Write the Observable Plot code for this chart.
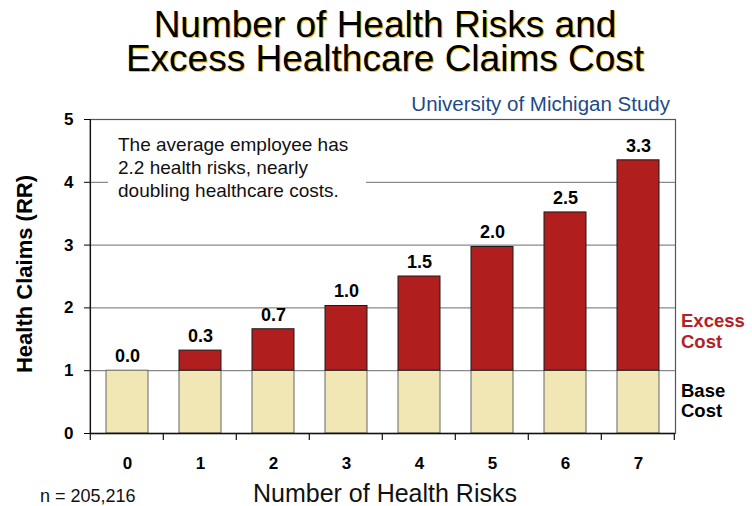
<!DOCTYPE html>
<html>
<head>
<meta charset="utf-8">
<script src="https://cdn.jsdelivr.net/npm/d3@7"></script>
<script src="https://cdn.jsdelivr.net/npm/@observablehq/plot@0.6"></script>
<style>
  body { margin: 0; background: #fff; }
  #wrap { position: relative; width: 752px; height: 506px; overflow: hidden; font-family: "Liberation Sans", Arial, sans-serif; }
  #wrap svg { position: absolute; left: 0; top: 0; }
  .ov { position: absolute; white-space: nowrap; }
</style>
</head>
<body>
<div id="wrap"></div>
<script>
// ---- data ----
const risks = [0, 1, 2, 3, 4, 5, 6, 7];
const baseCost = [1, 1, 1, 1, 1, 1, 1, 1];
const totalClaims = [1.0, 1.32, 1.66, 2.03, 2.5, 2.97, 3.52, 4.35];
const excessLabels = ["0.0", "0.3", "0.7", "1.0", "1.5", "2.0", "2.5", "3.3"];
const yTicks = [0, 1, 2, 3, 4, 5];
const gridValues = [1, 2, 3, 4];

const titleLines = ["Number of Health Risks and", "Excess Healthcare Claims Cost"];
const subtitle = "University of Michigan Study";
const noteLines = ["The average employee has", "2.2 health risks, nearly", "doubling healthcare costs."];
const xTitle = "Number of Health Risks";
const yTitle = "Health Claims (RR)";
const sampleNote = "n = 205,216";
const legendExcess = ["Excess", "Cost"];
const legendBase = ["Base", "Cost"];

const rows = risks.map((r, i) => ({risk: r, base: baseCost[i], total: totalClaims[i], label: excessLabels[i]}));

const FONT = '"Liberation Sans", Arial, sans-serif';

const plot = Plot.plot({
  width: 752,
  height: 506,
  marginLeft: 90,
  marginRight: 77,
  marginTop: 119,
  marginBottom: 73,
  style: {fontFamily: FONT, background: "transparent", overflow: "visible"},
  x: {type: "band", domain: risks, paddingInner: 0.43, paddingOuter: 0.215},
  y: {domain: [0, 5]},
  marks: [
    Plot.ruleY(gridValues, {stroke: "#8a8a8a", strokeWidth: 1.3}),
    Plot.barY(rows, {x: "risk", y1: 0, y2: "base", fill: "#f1e7b5", stroke: "#666", strokeWidth: 1, inset: 0}),
    Plot.barY(rows.filter(d => d.total > d.base), {x: "risk", y1: "base", y2: "total", fill: "#b01e1e", stroke: "#1a1a1a", strokeWidth: 1, inset: 0}),
    Plot.frame({stroke: "#555", strokeWidth: 1.2}),
    Plot.ruleY([0], {stroke: "#111", strokeWidth: 1.3}),
    Plot.axisY({ticks: yTicks, tickFormat: d => String(d), tickSize: 6, tickPadding: 11, fontSize: 17, fontWeight: "bold", fill: "#000", label: null}),
    Plot.axisX({tickSize: 0, tickPadding: 23, fontSize: 17, fontWeight: "bold", fill: "#000", label: null}),
    Plot.text(rows, {x: "risk", y: "total", text: "label", dy: -14.5, fontSize: 18, fontWeight: "bold", fill: "#000"})
  ]
});

const wrap = document.getElementById("wrap");
wrap.appendChild(plot);

// band boundary ticks on the x axis, drawn from Plot's own scales
const xs = plot.scale("x");
const ys = plot.scale("y");
const step = xs.step;
const first = xs.apply(risks[0]) - step * 0.43 / 2;
const y0 = ys.apply(0);
const svg = d3.select(plot);
svg.append("g").selectAll("line")
  .data(d3.range(risks.length + 1))
  .join("line")
  .attr("x1", k => first + k * step)
  .attr("x2", k => first + k * step)
  .attr("y1", y0)
  .attr("y2", y0 + 7)
  .attr("stroke", "#111")
  .attr("stroke-width", 1.2);
// left axis line in black
svg.append("line")
  .attr("x1", first).attr("x2", first)
  .attr("y1", ys.apply(5)).attr("y2", y0)
  .attr("stroke", "#111").attr("stroke-width", 1.3);

// overlays
function addText(txt, css, lines) {
  const d = document.createElement("div");
  d.className = "ov";
  if (lines) {
    lines.forEach((t, i) => {
      if (i) d.appendChild(document.createElement("br"));
      d.appendChild(document.createTextNode(t));
    });
  } else {
    d.textContent = txt;
  }
  Object.assign(d.style, css);
  wrap.appendChild(d);
  return d;
}

// title (one block, two lines)
addText(null, {left: "0px", width: "770px", textAlign: "center", top: "8px",
  fontSize: "37px", lineHeight: "34px", color: "#000", textShadow: "1.2px 1.2px 0 #f0c020"}, titleLines);

// subtitle
addText(subtitle, {right: (752 - 670) + "px", top: "92px", fontSize: "20.5px", lineHeight: "24px", color: "#1d4a87"});

// annotation box
const box = document.createElement("div");
box.className = "ov";
Object.assign(box.style, {left: "108px", top: "128px", width: "258px", height: "76px", background: "#fff"});
wrap.appendChild(box);
addText(null, {left: "118px", top: "133px", fontSize: "19px", lineHeight: "23px", color: "#111"}, noteLines);

// legend-like labels
addText(null, {left: "681px", top: "310px", fontSize: "18.5px", fontWeight: "bold", lineHeight: "21px", color: "#b52025"}, legendExcess);
addText(null, {left: "681px", top: "381px", fontSize: "18.5px", fontWeight: "bold", lineHeight: "20px", color: "#000"}, legendBase);

// axis titles
addText(xTitle, {left: "0px", width: "770px", textAlign: "center", top: "481px", fontSize: "25px", lineHeight: "24px", color: "#111"});
addText(yTitle, {left: "25px", top: "274px", fontSize: "22px", fontWeight: "bold", lineHeight: "24px", color: "#000",
  transform: "translate(-50%, -50%) rotate(-90deg)"});

// sample size
addText(sampleNote, {left: "40px", top: "487px", fontSize: "18px", lineHeight: "19px", color: "#111"});
</script>
</body>
</html>
